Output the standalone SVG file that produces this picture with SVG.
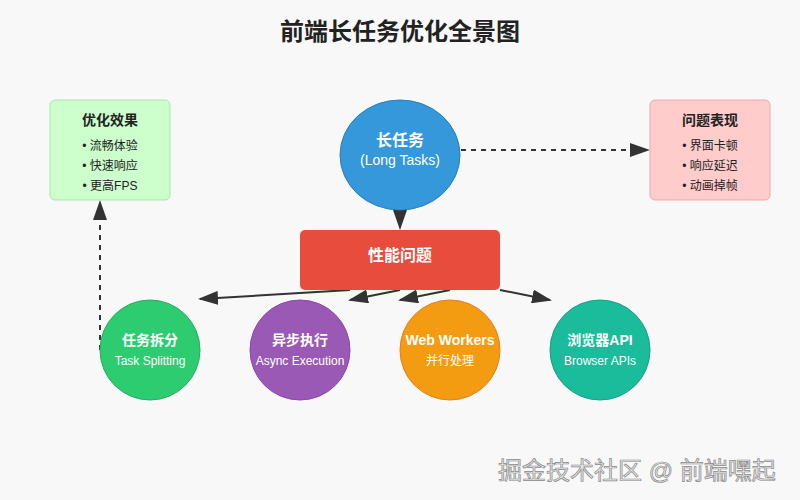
<svg xmlns="http://www.w3.org/2000/svg" width="800" height="500" viewBox="0 0 800 500">
<defs>
<marker id="arr" markerWidth="10" markerHeight="7" refX="9" refY="3.5" orient="auto">
<polygon points="0 0,10 3.5,0 7" fill="#333"/>
</marker>
<style>
text{font-family:"Liberation Sans","Noto Sans CJK SC",sans-serif;}
.title{font-size:24px;font-weight:bold;fill:#222;text-anchor:middle;}
.big{font-size:16px;font-weight:bold;fill:#fff;text-anchor:middle;}
.mid{font-size:14px;font-weight:bold;fill:#fff;text-anchor:middle;}
.sub{font-size:12px;fill:#fff;text-anchor:middle;}
.sub14{font-size:14px;fill:#fff;text-anchor:middle;}
.bt{font-size:14px;font-weight:bold;fill:#222;text-anchor:middle;}
.bi{font-size:12px;fill:#222;text-anchor:middle;}
.line{stroke:#333;stroke-width:2;fill:none;}
.dash{stroke-dasharray:5,5;}
.wm{font-size:24px;fill:#e6e6e6;stroke:#8a8a8a;stroke-width:0.7;}
</style>
</defs>
<rect width="800" height="500" fill="#f8f8f8"/>
<text class="title" x="400" y="40">前端长任务优化全景图</text>

<g id="connectors">
<line class="line" x1="400" y1="210" x2="400" y2="228" marker-end="url(#arr)"/>
<line class="line dash" x1="461" y1="150" x2="648" y2="150" marker-end="url(#arr)"/>
<line class="line dash" x1="100" y1="350" x2="100" y2="202" marker-end="url(#arr)"/>
<line class="line" x1="350" y1="290" x2="200" y2="299" marker-end="url(#arr)"/>
<line class="line" x1="400" y1="290" x2="350" y2="300" marker-end="url(#arr)"/>
<line class="line" x1="450" y1="290" x2="400" y2="300" marker-end="url(#arr)"/>
<line class="line" x1="500" y1="290" x2="550" y2="300" marker-end="url(#arr)"/>
</g>

<g id="long-tasks">
<ellipse cx="400" cy="155" rx="60" ry="55" fill="#3498db" stroke="#2980b9" stroke-width="1"/>
<text class="big" x="400" y="146">长任务</text>
<text class="sub14" x="400" y="165">(Long Tasks)</text>
</g>

<g id="effects">
<rect x="50" y="100" width="120" height="100" rx="5" fill="#ccffcc" stroke="#a8e8a8" stroke-width="1"/>
<text class="bt" x="110" y="125">优化效果</text>
<text class="bi" x="110" y="150">• 流畅体验</text>
<text class="bi" x="110" y="170">• 快速响应</text>
<text class="bi" x="110" y="190">• 更高FPS</text>
</g>

<g id="problems">
<rect x="650" y="100" width="120" height="100" rx="5" fill="#ffcccc" stroke="#f2a8a8" stroke-width="1"/>
<text class="bt" x="710" y="125">问题表现</text>
<text class="bi" x="710" y="150">• 界面卡顿</text>
<text class="bi" x="710" y="170">• 响应延迟</text>
<text class="bi" x="710" y="190">• 动画掉帧</text>
</g>

<g id="perf">
<rect x="300" y="230" width="200" height="60" rx="5" fill="#e74c3c"/>
<text class="big" x="400" y="261">性能问题</text>
</g>

<g id="split">
<circle cx="150" cy="350" r="50" fill="#2ecc71" stroke="#27ae60" stroke-width="1"/>
<text class="mid" x="150" y="345">任务拆分</text>
<text class="sub" x="150" y="365">Task Splitting</text>
</g>

<g id="async">
<circle cx="300" cy="350" r="50" fill="#9b59b6" stroke="#8e44ad" stroke-width="1"/>
<text class="mid" x="300" y="345">异步执行</text>
<text class="sub" x="300" y="365">Async Execution</text>
</g>

<g id="workers">
<circle cx="450" cy="350" r="50" fill="#f39c12" stroke="#e67e22" stroke-width="1"/>
<text class="mid" x="450" y="345">Web Workers</text>
<text class="sub" x="450" y="365">并行处理</text>
</g>

<g id="browser">
<circle cx="600" cy="350" r="50" fill="#1abc9c" stroke="#16a085" stroke-width="1"/>
<text class="mid" x="600" y="345">浏览器API</text>
<text class="sub" x="600" y="365">Browser APIs</text>
</g>

<text class="wm" x="498" y="479">掘金技术社区 @ 前端嘿起</text>
</svg>
